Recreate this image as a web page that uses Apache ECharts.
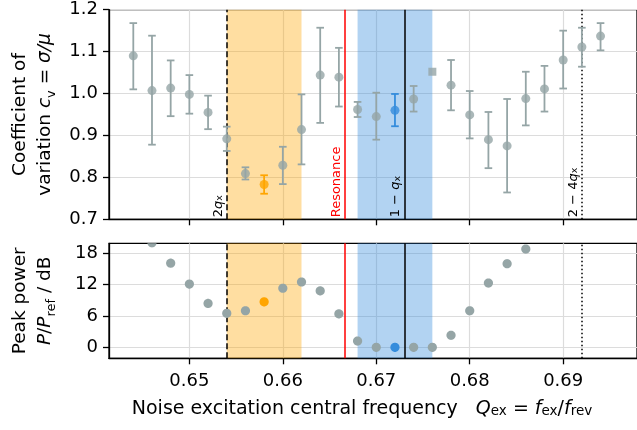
<!DOCTYPE html>
<html>
<head>
<meta charset="utf-8">
<script src="https://cdn.jsdelivr.net/npm/echarts@6/dist/echarts.min.js"></script>
<style>
html,body{margin:0;padding:0;background:#fff;}
#chart{width:637px;height:430px;}
</style>
</head>
<body>
<div id="chart"></div>
<script>
// ---------------- data ----------------
const freqs = [0.644, 0.646, 0.648, 0.650, 0.652, 0.654, 0.656, 0.658, 0.660, 0.662, 0.664, 0.666, 0.668,
               0.670, 0.672, 0.674, 0.676, 0.678, 0.680, 0.682, 0.684, 0.686, 0.688, 0.690, 0.692, 0.694];
const cvMean = [1.090, 1.007, 1.013, 0.998, 0.955, 0.892, 0.809, 0.783, 0.829, 0.914, 1.044, 1.039, 0.962,
                0.945, 0.960, 0.987, 1.052, 1.020, 0.949, 0.890, 0.875, 0.988, 1.011, 1.080, 1.111, 1.137];
const cvLow  = [1.010, 0.878, 0.946, 0.952, 0.915, 0.863, 0.795, 0.761, 0.784, 0.831, 0.930, 0.969, 0.944,
                0.890, 0.922, 0.957, null, 0.960, 0.893, 0.822, 0.764, 0.924, 0.957, 1.012, 1.064, 1.103];
const cvHigh = [1.168, 1.138, 1.079, 1.044, 0.995, 0.921, 0.824, 0.805, 0.873, 0.998, 1.157, 1.109, 0.980,
                1.002, 0.999, 1.018, null, 1.080, 1.006, 0.956, 0.987, 1.052, 1.066, 1.150, 1.157, 1.168];
const peakPower = [null, 20.0, 16.1, 12.1, 8.4, 6.5, 7.0, 8.7, 11.3, 12.5, 10.8, 6.4, 1.2,
                   0.0, 0.0, 0.0, 0.0, 2.3, 7.0, 12.3, 16.0, 18.8, null, null, null, null];
const orangeFreq = 0.658;
const blueFreq = 0.672;
const squareFreq = 0.676;
const xTicks = [0.65, 0.66, 0.67, 0.68, 0.69];
const cvTicks = [0.7, 0.8, 0.9, 1.0, 1.1, 1.2];
const powerTicks = [0, 6, 12, 18];
const orangeBand = [0.654, 0.662];
const blueBand = [0.668, 0.676];
const lineTwoQx = 0.654;
const lineResonance = 2 / 3;
const lineOneMinusQx = 0.673;
const lineTwoMinusFourQx = 0.692;

// ---------------- styles ----------------
const FONT = 'DejaVu Sans';
const GRAY = '#95a5a6', ORANGE = '#ffa500', BLUE = '#348cdc';
const GRID_COLOR = '#dcdcdc';
const X_MIN = 0.6414, X_MAX = 0.6979;

function colorOf(f) {
  if (Math.abs(f - orangeFreq) < 1e-6) return ORANGE;
  if (Math.abs(f - blueFreq) < 1e-6) return BLUE;
  return GRAY;
}

function richSet(size, subSize, color) {
  color = color || '#000';
  return {
    n: {fontFamily: FONT, fontSize: size, color: color},
    i: {fontFamily: FONT, fontSize: size, fontStyle: 'italic', color: color},
    sub: {fontFamily: FONT, fontSize: subSize, color: color, verticalAlign: 'bottom'}
  };
}

const vlines = [
  {x: lineTwoQx, dash: [6, 3], color: '#000', text: '{n|2}{i|q}{sub|x}'},
  {x: lineResonance, dash: null, color: '#ff0000', text: '{n|Resonance}'},
  {x: lineOneMinusQx, dash: null, color: '#000', text: '{n|1 − }{i|q}{sub|x}'},
  {x: lineTwoMinusFourQx, dash: [1.5, 2.5], color: '#000', text: '{n|2 − 4}{i|q}{sub|x}'}
];

function markLineFor(showLabels) {
  return {
    symbol: 'none', silent: true, animation: false, precision: 6,
    data: vlines.map(v => ({
      xAxis: v.x,
      lineStyle: {color: v.color, width: 1.5, type: v.dash || 'solid'},
      label: {
        show: showLabels, position: 'insideStartTop', distance: 2,
        formatter: v.text, rich: richSet(13, 9.5, v.color)
      }
    }))
  };
}
const markAreaCfg = {
  silent: true,
  data: [
    [{xAxis: orangeBand[0], itemStyle: {color: 'rgba(255,165,0,0.37)'}}, {xAxis: orangeBand[1]}],
    [{xAxis: blueBand[0], itemStyle: {color: 'rgba(52,140,220,0.38)'}}, {xAxis: blueBand[1]}]
  ]
};

const errData = [];
freqs.forEach((f, i) => { if (cvLow[i] != null) errData.push([f, cvLow[i], cvHigh[i]]); });
const ptsData = [];
freqs.forEach((f, i) => {
  if (cvMean[i] == null) return;
  const sq = Math.abs(f - squareFreq) < 1e-6;
  ptsData.push({
    value: [f, cvMean[i]],
    symbol: sq ? 'rect' : 'circle',
    symbolSize: sq ? 8 : 9,
    itemStyle: {color: colorOf(f)}
  });
});
const powData = [];
freqs.forEach((f, i) => { if (peakPower[i] != null) powData.push([f, peakPower[i]]); });

const axisCommonX = (grid, showLabels) => ({
  type: 'value', gridIndex: grid, min: X_MIN, max: X_MAX,
  axisLine: {show: true, onZero: false, lineStyle: {color: '#000', width: 1.3}},
  axisTick: {show: true, customValues: xTicks, length: 6, lineStyle: {color: '#000', width: 1.3}},
  axisLabel: {show: showLabels, customValues: xTicks, fontFamily: FONT, fontSize: 18, color: '#000', margin: 14,
              formatter: v => v.toFixed(2)},
  splitLine: {show: true, lineStyle: {color: GRID_COLOR, width: 1.2}}
});

const option = {
  animation: false,
  backgroundColor: '#fff',
  grid: [
    {left: 106, top: 9.7, width: 531, height: 209.6, show: true, borderColor: '#000', borderWidth: 1.3, backgroundColor: 'transparent'},
    {left: 106, top: 243.3, width: 531, height: 115, show: true, borderColor: '#000', borderWidth: 1.3, backgroundColor: 'transparent'}
  ],
  xAxis: [
    axisCommonX(0, false),
    Object.assign(axisCommonX(1, true), {
      name: '{n|Noise excitation central frequency   }{i|Q}{sub|ex}{n| = }{i|f}{sub|ex}{n|/}{i|f}{sub|rev}',
      nameLocation: 'middle', nameGap: 41,
      nameTextStyle: {fontFamily: FONT, fontSize: 19, color: '#000', padding: [0, 22, 0, 0], rich: richSet(19, 13.5)}
    })
  ],
  yAxis: [
    {
      type: 'value', gridIndex: 0, min: 0.7, max: 1.2,
      axisLine: {show: true, lineStyle: {color: '#000', width: 1.3}},
      axisTick: {show: true, customValues: cvTicks, length: 6, lineStyle: {color: '#000', width: 1.3}},
      axisLabel: {customValues: cvTicks, fontFamily: FONT, fontSize: 18, color: '#000', margin: 11, formatter: v => v.toFixed(1)},
      splitLine: {show: true, lineStyle: {color: GRID_COLOR, width: 1.2}},
      name: '{n|Coefficient of}\n{n|variation }{i|c}{sub|v}{n| = }{i|σ/μ}',
      nameLocation: 'middle', nameRotate: 90, nameGap: 51,
      nameTextStyle: {fontFamily: FONT, fontSize: 18.5, color: '#000', lineHeight: 25, rich: richSet(18.5, 13)}
    },
    {
      type: 'value', gridIndex: 1, min: -2.1, max: 19.9,
      axisLine: {show: true, onZero: false, lineStyle: {color: '#000', width: 1.3}},
      axisTick: {show: true, customValues: powerTicks, length: 6, lineStyle: {color: '#000', width: 1.3}},
      axisLabel: {customValues: powerTicks, fontFamily: FONT, fontSize: 18, color: '#000', margin: 11},
      splitLine: {show: true, lineStyle: {color: GRID_COLOR, width: 1.2}},
      name: '{n|Peak power}\n{i|P}{n|/}{i|P}{sub|ref}{n| / dB}',
      nameLocation: 'middle', nameRotate: 90, nameGap: 51,
      nameTextStyle: {fontFamily: FONT, fontSize: 18.5, color: '#000', lineHeight: 25, rich: richSet(18.5, 13)}
    }
  ],
  series: [
    {type: 'line', xAxisIndex: 0, yAxisIndex: 0, data: [], z: 1, markArea: markAreaCfg, markLine: markLineFor(true)},
    {type: 'line', xAxisIndex: 1, yAxisIndex: 1, data: [], z: 1, markArea: markAreaCfg, markLine: markLineFor(false)},
    {
      type: 'custom', xAxisIndex: 0, yAxisIndex: 0, z: 5, data: errData,
      renderItem: function (params, api) {
        const x = api.value(0);
        const lo = api.coord([x, api.value(1)]);
        const hi = api.coord([x, api.value(2)]);
        const c = colorOf(x);
        const cap = 3.8;
        const st = {stroke: c, lineWidth: 1.8};
        return {type: 'group', children: [
          {type: 'line', shape: {x1: lo[0], y1: lo[1], x2: hi[0], y2: hi[1]}, style: st},
          {type: 'line', shape: {x1: lo[0] - cap, y1: lo[1], x2: lo[0] + cap, y2: lo[1]}, style: st},
          {type: 'line', shape: {x1: hi[0] - cap, y1: hi[1], x2: hi[0] + cap, y2: hi[1]}, style: st}
        ]};
      }
    },
    {type: 'scatter', xAxisIndex: 0, yAxisIndex: 0, z: 6, data: ptsData},
    {
      type: 'custom', xAxisIndex: 1, yAxisIndex: 1, z: 6, data: powData,
      renderItem: function (params, api) {
        const x = api.value(0);
        const p = api.coord([x, api.value(1)]);
        const cs = params.coordSys;
        const r = 4.6, pts = [];
        // circle outline, clamped to the plotting rectangle (clips marker at the frame)
        for (let k = 0; k < 48; k++) {
          const a = k / 48 * Math.PI * 2;
          let px = p[0] + r * Math.cos(a), py = p[1] + r * Math.sin(a);
          px = Math.min(Math.max(px, cs.x), cs.x + cs.width);
          py = Math.min(Math.max(py, cs.y), cs.y + cs.height);
          pts.push([px, py]);
        }
        return {type: 'polygon', shape: {points: pts}, style: {fill: colorOf(x)}};
      }
    }
  ]
};
const chart = echarts.init(document.getElementById('chart'), null, {renderer: 'canvas'});
chart.setOption(option);
</script>
</body>
</html>
